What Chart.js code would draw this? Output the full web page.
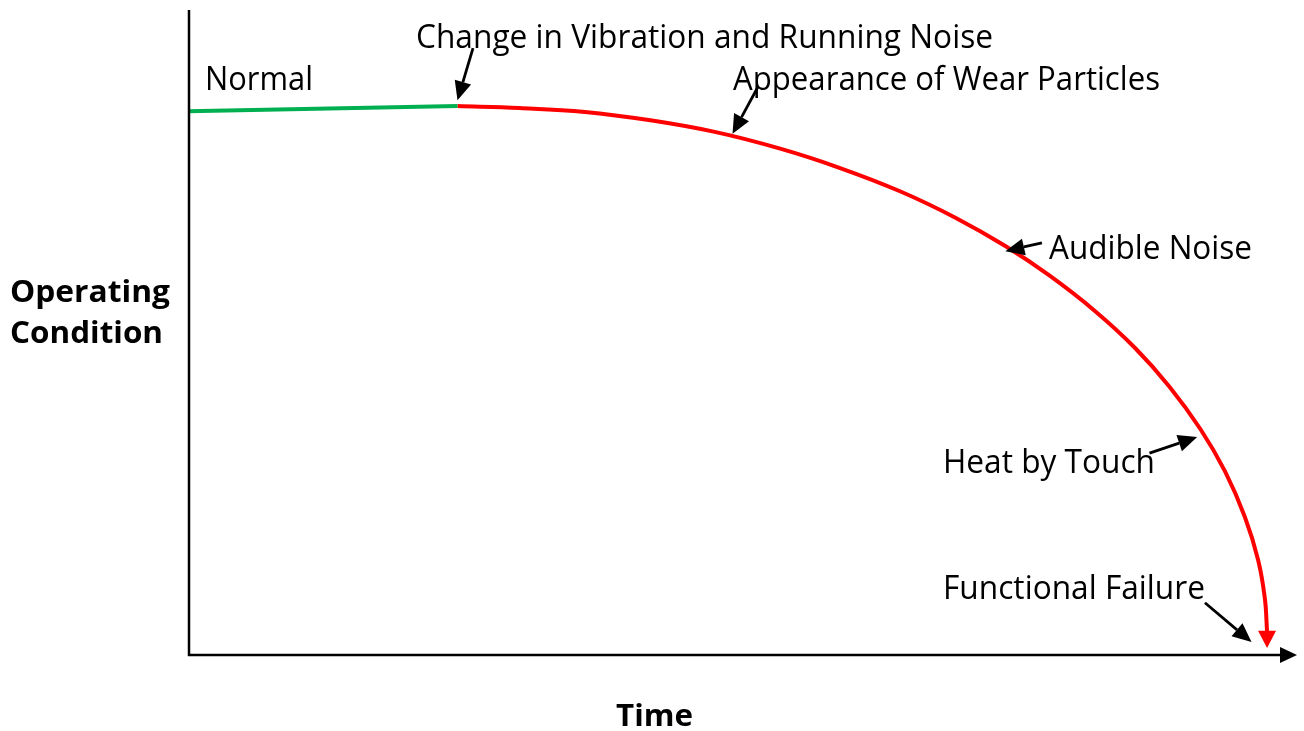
<!DOCTYPE html>
<html>
<head>
<meta charset="utf-8">
<script src="https://cdn.jsdelivr.net/npm/chart.js@4/dist/chart.umd.min.js"></script>
<style>
  html, body { margin: 0; padding: 0; background: #ffffff; }
  #wrap { width: 1304px; height: 731px; }
</style>
</head>
<body>
<div id="wrap"><canvas id="c" width="1304" height="731"></canvas></div>
<script>
// ---- Data (time 0..100, operating condition 0..100) ----
const normalTime = [0, 24.3];
const normalCondition = [84.3, 85.1];
const failTime = [24.3, 29.9, 35.8, 41.7, 47.5, 53.4, 58.8, 64.2, 69.2, 73.7, 77.7, 81.8, 85.4, 88.5, 91.3, 93.5, 95.3, 96.5, 97.1, 97.3];
const failCondition = [85.1, 84.8, 84.2, 82.9, 81.1, 78.5, 75.5, 71.9, 67.8, 63.4, 58.8, 53.3, 47.6, 41.6, 35.0, 28.5, 21.4, 14.7, 8.8, 3.6];
const failEndTime = 97.3;
const failEndCondition = 1.1;
const xTitle = 'Time';
const yTitle = ['Operating', 'Condition'];
const eventLabels = ['Normal', 'Change in Vibration and Running Noise', 'Appearance of Wear Particles', 'Audible Noise', 'Heat by Touch', 'Functional Failure'];

// ---- Layout (pixels) for labels ----
const labelLayout = [
  { x: 205, y: 90, w: 108 },
  { x: 416, y: 48, w: 577 },
  { x: 733, y: 90, w: 427 },
  { x: 1049, y: 259, w: 203 },
  { x: 943, y: 473, w: 212 },
  { x: 943, y: 599, w: 262 }
];
// annotation arrows in data units: [fromT, fromC, tipT, tipC]
const arrowLayout = [
  [25.7, 94.1, 24.3, 86.0],
  [51.4, 88.1, 49.1, 80.8],
  [77.0, 63.9, 73.7, 62.6],
  [86.7, 31.3, 91.0, 33.8],
  [91.7, 8.1, 95.9, 2.0]
];

function pts(xs, ys) { return xs.map((x, i) => ({ x: x, y: ys[i] })); }

function arrow(ctx, x1, y1, x2, y2, len, half, color, lw) {
  const a = Math.atan2(y2 - y1, x2 - x1);
  const bx = x2 - len * Math.cos(a), by = y2 - len * Math.sin(a);
  ctx.save();
  ctx.strokeStyle = color; ctx.fillStyle = color; ctx.lineWidth = lw;
  ctx.beginPath(); ctx.moveTo(x1, y1); ctx.lineTo(bx, by); ctx.stroke();
  ctx.beginPath();
  ctx.moveTo(x2, y2);
  ctx.lineTo(bx + half * Math.sin(a), by - half * Math.cos(a));
  ctx.lineTo(bx - half * Math.sin(a), by + half * Math.cos(a));
  ctx.closePath(); ctx.fill();
  ctx.restore();
}

function fitText(ctx, text, x, y, w, font) {
  ctx.save();
  ctx.font = font;
  const m = ctx.measureText(text).width;
  const s = w / m;
  ctx.translate(x, y);
  ctx.scale(s, 1);
  ctx.fillText(text, 0, 0);
  ctx.restore();
}

const decor = {
  id: 'decor',
  afterDatasetsDraw(chart) {
    const ctx = chart.ctx;
    const xs = chart.scales.x, ys = chart.scales.y;
    const a = chart.chartArea;
    // axes
    ctx.save();
    ctx.strokeStyle = '#000'; ctx.lineWidth = 2.5;
    ctx.beginPath(); ctx.moveTo(a.left + 1, a.top); ctx.lineTo(a.left + 1, a.bottom + 1); ctx.stroke();
    ctx.restore();
    arrow(ctx, a.left, a.bottom, a.right, a.bottom, 17, 8, '#000', 2.5);
    // red failure arrowhead
    const lx = xs.getPixelForValue(failTime[failTime.length - 1]);
    const ly = ys.getPixelForValue(failCondition[failCondition.length - 1]);
    const tx = xs.getPixelForValue(failEndTime);
    const ty = ys.getPixelForValue(failEndCondition);
    ctx.save();
    ctx.fillStyle = '#ff0000';
    ctx.beginPath();
    ctx.moveTo(tx, ty); ctx.lineTo(lx - 9, ly - 1); ctx.lineTo(lx + 9, ly - 1); ctx.closePath(); ctx.fill();
    ctx.restore();
    // annotation arrows
    arrowLayout.forEach(r => {
      arrow(ctx, xs.getPixelForValue(r[0]), ys.getPixelForValue(r[1]),
        xs.getPixelForValue(r[2]), ys.getPixelForValue(r[3]), 19, 8.5, '#000', 2.8);
    });
    // labels
    ctx.fillStyle = '#000';
    ctx.textBaseline = 'alphabetic';
    ctx.textAlign = 'left';
    eventLabels.forEach((t, i) => {
      const L = labelLayout[i];
      fitText(ctx, t, L.x, L.y, L.w, '32px "Open Sans"');
    });
    fitText(ctx, yTitle[0], 10, 302, 160, 'bold 31px "Open Sans"');
    fitText(ctx, yTitle[1], 10, 343, 153, 'bold 31px "Open Sans"');
    fitText(ctx, xTitle, 616, 726, 77, 'bold 31px "Open Sans"');
  }
};

new Chart(document.getElementById('c'), {
  type: 'line',
  data: {
    datasets: [
      { data: pts(normalTime, normalCondition), borderColor: '#00b050', borderWidth: 4, pointRadius: 0, fill: false },
      { data: pts(failTime, failCondition), borderColor: '#ff0000', borderWidth: 4, pointRadius: 0, fill: false, tension: 0.4 }
    ]
  },
  options: {
    responsive: false,
    animation: false,
    events: [],
    layout: { padding: { left: 188, right: 7, top: 10, bottom: 76 } },
    plugins: { legend: { display: false }, tooltip: { enabled: false } },
    scales: {
      x: { type: 'linear', min: 0, max: 100, display: false },
      y: { type: 'linear', min: 0, max: 100, display: false }
    }
  },
  plugins: [decor]
});
</script>
</body>
</html>
